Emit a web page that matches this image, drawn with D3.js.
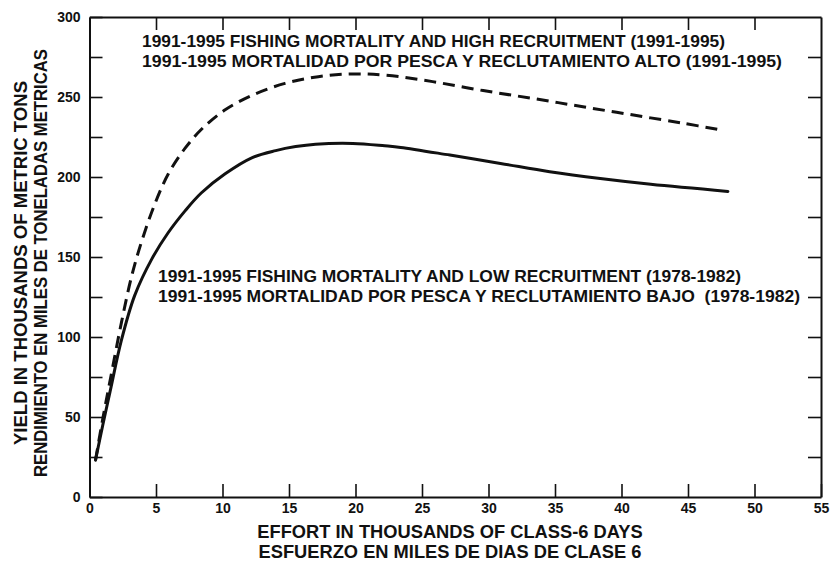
<!DOCTYPE html>
<html>
<head>
<meta charset="utf-8">
<script src="https://cdn.jsdelivr.net/npm/d3@7/dist/d3.min.js"></script>
<style>
  html, body { margin: 0; padding: 0; background: #fff; }
  svg { display: block; }
  text { font-family: "Liberation Sans", Arial, Helvetica, sans-serif; font-weight: bold; fill: #111; }
</style>
</head>
<body>
<svg id="chart" width="832" height="562"></svg>
<script>
// Yield per effort: 1991-1995 fishing mortality with low (1978-1982) recruitment
const effortLow = [0.45, 1.0, 1.55, 2.4, 3.4, 4.7, 5.9, 7.2, 8.4, 10.2, 12.2, 14.0, 15.5, 17.0, 19.8, 22.2, 23.4, 27.1, 30.9, 34.6, 38.4, 42.2, 48.0];
const yieldLow  = [23, 45, 66, 98, 126, 149, 165, 179, 190, 202, 212, 216.5, 219, 220.5, 221, 219.5, 218.5, 213.7, 208.5, 203.3, 199, 195.4, 191];

// Yield per effort: 1991-1995 fishing mortality with high (1991-1995) recruitment
const effortHigh = [0.45, 1.0, 1.6, 2.4, 3.17, 3.93, 4.93, 5.93, 7.19, 8.44, 10.2, 12.2, 14.7, 17.2, 19.7, 22.2, 25.8, 29.6, 33.4, 37.1, 40.9, 44.7, 47.5];
const yieldHigh  = [23, 49, 75, 109, 138, 160, 183.5, 202, 218, 230, 242, 251, 258.5, 262.7, 264.4, 263.7, 259.6, 254, 249, 243.9, 238.7, 233.5, 229.4];

// Axis ticks
const xTicks = [0, 5, 10, 15, 20, 25, 30, 35, 40, 45, 50, 55];
const yTicks = [0, 25, 50, 75, 100, 125, 150, 175, 200, 225, 250, 275, 300];
const yLabelled = [0, 50, 100, 150, 200, 250, 300];

// Text
const annotHigh = ["1991-1995 FISHING MORTALITY AND HIGH RECRUITMENT (1991-1995)",
                   "1991-1995 MORTALIDAD POR PESCA Y RECLUTAMIENTO ALTO (1991-1995)"];
const annotLow  = ["1991-1995 FISHING MORTALITY AND LOW RECRUITMENT (1978-1982)",
                   "1991-1995 MORTALIDAD POR PESCA Y RECLUTAMIENTO BAJO\u00a0 (1978-1982)"];
const xTitle = ["EFFORT IN THOUSANDS OF CLASS-6 DAYS", "ESFUERZO EN MILES DE DIAS DE CLASE 6"];
const yTitle = ["YIELD IN THOUSANDS OF METRIC TONS", "RENDIMIENTO EN MILES DE TONELADAS METRICAS"];

const svg = d3.select("#chart");
const plot = { left: 89.5, right: 821, top: 17, bottom: 497 };

const x = d3.scaleLinear().domain([0, 55]).range([plot.left, plot.right]);
const y = d3.scaleLinear().domain([0, 300]).range([plot.bottom, plot.top]);

const tickLen = 13;

function styleAxis(g) {
  g.select(".domain").attr("stroke", "#111").attr("stroke-width", 2);
  g.selectAll(".tick line").attr("stroke", "#111").attr("stroke-width", 1.6);
  g.selectAll(".tick text").attr("font-size", 14).attr("fill", "#111")
    .style("font-family", "'Liberation Sans', Arial, sans-serif").style("font-weight", "bold");
}

// Bottom axis with labels, ticks pointing into the plot
svg.append("g")
  .attr("transform", `translate(0,${plot.bottom})`)
  .call(d3.axisBottom(x).tickValues(xTicks).tickSizeInner(-tickLen).tickSizeOuter(0).tickPadding(6).tickFormat(d3.format("d")))
  .call(styleAxis);

// Top frame edge
svg.append("g")
  .attr("transform", `translate(0,${plot.top})`)
  .call(d3.axisTop(x).tickValues(xTicks.slice(1, -1)).tickSizeInner(-tickLen).tickSizeOuter(0).tickFormat(""))
  .call(styleAxis);

// Left axis: ticks every 25, labels every 50
svg.append("g")
  .attr("transform", `translate(${plot.left},0)`)
  .call(d3.axisLeft(y).tickValues(yTicks).tickSizeInner(-tickLen).tickSizeOuter(0).tickPadding(9)
    .tickFormat(d => yLabelled.includes(d) ? d3.format("d")(d) : ""))
  .call(styleAxis);

// Right frame edge
svg.append("g")
  .attr("transform", `translate(${plot.right},0)`)
  .call(d3.axisRight(y).tickValues(yTicks.slice(1, -1)).tickSizeInner(-tickLen).tickSizeOuter(0).tickFormat(""))
  .call(styleAxis);

// Yield curves
const line = d3.line()
  .x(d => x(d[0]))
  .y(d => y(d[1]))
  .curve(d3.curveCatmullRom.alpha(0.5));

svg.append("path")
  .datum(d3.zip(effortHigh, yieldHigh))
  .attr("d", line)
  .attr("fill", "none")
  .attr("stroke", "#111")
  .attr("stroke-width", 3)
  .attr("stroke-dasharray", "12,7");

svg.append("path")
  .datum(d3.zip(effortLow, yieldLow))
  .attr("d", line)
  .attr("fill", "none")
  .attr("stroke", "#111")
  .attr("stroke-width", 3)
  .attr("stroke-linecap", "round");

// Curve annotations (two lines each, fitted to a set width)
function annot(lines, widths, x0, y0) {
  svg.append("g").selectAll("text").data(lines).join("text")
    .attr("x", x0)
    .attr("y", (d, i) => y0 + i * 20)
    .attr("font-size", 17.3)
    .attr("textLength", (d, i) => widths[i])
    .attr("lengthAdjust", "spacingAndGlyphs")
    .text(d => d);
}
annot(annotHigh, [583, 640], 142, 47);
annot(annotLow, [583, 642], 158, 282);

// Axis titles
svg.append("g").selectAll("text").data(xTitle).join("text")
  .attr("x", 450)
  .attr("y", (d, i) => 538 + i * 20)
  .attr("text-anchor", "middle")
  .attr("font-size", 18.3)
  .text(d => d);

const yTitleWidths = [364, 428];
svg.append("g").selectAll("text").data(yTitle).join("text")
  .attr("transform", (d, i) => `translate(${27 + i * 20},263) rotate(-90)`)
  .attr("text-anchor", "middle")
  .attr("font-size", 17.5)
  .attr("textLength", (d, i) => yTitleWidths[i])
  .attr("lengthAdjust", "spacingAndGlyphs")
  .text(d => d);
</script>
</body>
</html>
